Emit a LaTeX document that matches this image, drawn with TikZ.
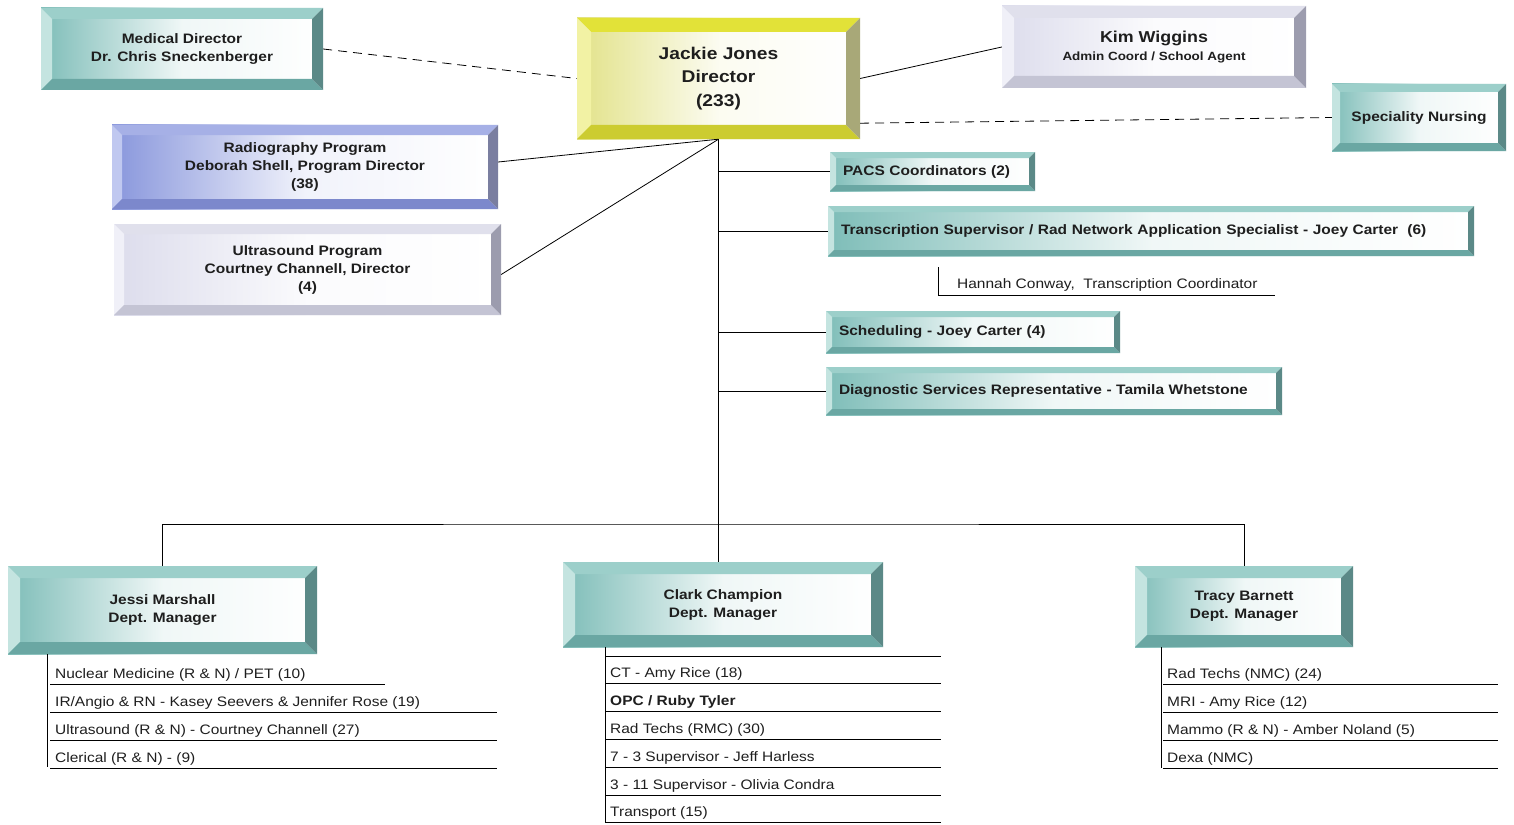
\documentclass[tikz,border=0pt]{standalone}
\usepackage{fontspec}
\setmainfont{Liberation Sans}[FakeStretch=1.13]
\usetikzlibrary{calc}

% bevel colours: T top, L left, B bottom, R right, I inner
\definecolor{tlT}{HTML}{9CCFCA}
\definecolor{tlL}{HTML}{C4E4E0}
\definecolor{tlB}{HTML}{6AA7A3}
\definecolor{tlR}{HTML}{5B8987}
\definecolor{tlI}{HTML}{7EBDB8}
\definecolor{ylT}{HTML}{E2E238}
\definecolor{ylL}{HTML}{F2F2A4}
\definecolor{ylB}{HTML}{CCCC30}
\definecolor{ylR}{HTML}{A8A878}
\definecolor{ylI}{HTML}{E2E288}
\definecolor{blT}{HTML}{A6B0E6}
\definecolor{blL}{HTML}{C0C8F0}
\definecolor{blB}{HTML}{7C88CC}
\definecolor{blR}{HTML}{7A7EA0}
\definecolor{blI}{HTML}{8896DC}
\definecolor{lvT}{HTML}{E0E0EC}
\definecolor{lvL}{HTML}{F0F0F8}
\definecolor{lvB}{HTML}{C4C4D4}
\definecolor{lvR}{HTML}{9C9CAE}
\definecolor{lvI}{HTML}{DCDCEC}
\definecolor{ink}{HTML}{1E1E1E}

\newcommand\bxfont{\fontsize{13.7}{18}\selectfont\bfseries}
\newcommand\rowfont{\fontsize{13.7}{16}\selectfont}

\tikzset{
  bevel/.style 2 args={
    left color=#2I, right color=white, middle color=white!88!#2I,
    path picture={
      \path (path picture bounding box.south west) coordinate (p1)
            (path picture bounding box.north east) coordinate (p3);
      \path (p1 -| p3) coordinate (p2) (p1 |- p3) coordinate (p4);
      \path ($(p1)+(#1pt,#1pt)$) coordinate (q1) ($(p2)+(-#1pt,#1pt)$) coordinate (q2)
            ($(p3)+(-#1pt,-#1pt)$) coordinate (q3) ($(p4)+(#1pt,-#1pt)$) coordinate (q4);
      \fill[#2T] (p4) -- (p3) -- (q3) -- (q4) -- cycle;
      \fill[#2L] (p1) -- (p4) -- (q4) -- (q1) -- cycle;
      \fill[#2B] (p1) -- (p2) -- (q2) -- (q1) -- cycle;
      \fill[#2R] (p2) -- (p3) -- (q3) -- (q2) -- cycle;
    }},
  box/.style={font=\bxfont, text=ink, align=center, inner sep=0pt},
  slim/.style={box, align=left, inner xsep=13pt, text width=#1},
  link/.style={line width=0.8pt, draw=black},
  dashlink/.style={link, dash pattern=on 9pt off 6pt},
  row/.style={anchor=base west, inner sep=0pt, font=\rowfont, text=ink},
  rule/.style={line width=0.8pt},
}

\begin{document}
\begin{tikzpicture}[x=1pt,y=-1pt]
    \useasboundingbox (0,0) rectangle (1514,824);

    % top level
    \node[box, bevel={14}{yl}, minimum width=283pt, minimum height=121pt,
          font=\fontsize{17}{23.5}\selectfont\bfseries] (dir) at (718.5,78.5) {Jackie Jones\\Director\\(233)};
    \node[box, bevel={11}{tl}, minimum width=282pt, minimum height=82pt] (med) at (182,49)
        {Medical Director\\Dr. Chris Sneckenberger};
    \node[box, bevel={12}{lv}, minimum width=304pt, minimum height=82pt] (kim) at (1154,47)
        {{\fontsize{15.8}{17}\selectfont Kim Wiggins}\\{\fontsize{11.9}{15}\selectfont Admin Coord / School Agent}};
    \node[box, bevel={8}{tl}, minimum width=174pt, minimum height=67pt] (nurse) at (1419,117.5)
        {Speciality Nursing};
    \node[box, bevel={10}{bl}, minimum width=386pt, minimum height=84pt] (radio) at (305,167)
        {Radiography Program\\Deborah Shell, Program Director\\(38)};
    \node[box, bevel={10}{lv}, minimum width=387pt, minimum height=91pt] (usprog) at (307.5,269.5)
        {Ultrasound Program\\Courtney Channell, Director\\(4)};

    % staff boxes off the trunk
    \node[slim=179pt, bevel={6}{tl}, minimum height=39pt] (pacs) at (932.5,171.5) {PACS Coordinators (2)};
    \node[slim=620pt, bevel={6}{tl}, minimum height=50pt] (trans) at (1151,231)
        {Transcription Supervisor / Rad Network Application Specialist - Joey Carter\ \ (6)};
    \node[slim=268pt, bevel={6}{tl}, minimum height=42pt] (sched) at (973,332) {Scheduling - Joey Carter (4)};
    \node[slim=430pt, bevel={6}{tl}, minimum height=48pt] (diag) at (1054,391)
        {Diagnostic Services Representative - Tamila Whetstone};
    \node[row] (hannah) at (957,288) {Hannah Conway,\ \ Transcription Coordinator};

    % managers
    \node[box, bevel={12}{tl}, minimum width=309pt, minimum height=88pt] (jessi) at (162.5,610) {Jessi Marshall\\Dept. Manager};
    \node[box, bevel={12}{tl}, minimum width=320pt, minimum height=85pt] (clark) at (723,604.5) {Clark Champion\\Dept. Manager};
    \node[box, bevel={12}{tl}, minimum width=218pt, minimum height=81pt] (tracy) at (1244,606.5) {Tracy Barnett\\Dept. Manager};

    % connectors
    \draw[dashlink] (med.east) -- (dir.west);
    \draw[link] (dir.east) -- (kim.west);
    \draw[dashlink] ([yshift=16pt]dir.south east) -- (nurse.west);
    \draw[link] ([yshift=5pt]radio.east) -- (dir.south);
    \draw[link] ([yshift=-5pt]usprog.east) -- (dir.south);
    \draw[link] (dir.south) -- (dir.south |- clark.north);
    \foreach \n in {pacs,trans,sched,diag}
        \draw[link] (dir.south |- \n.west) -- (\n.west);
    \draw[link] (938,267) |- (1275,295);
    \coordinate (bus) at (718.5,524);
    \draw[link] (jessi.north) |- (bus) -| (tracy.north);

    % lists
    \coordinate (jx) at (47,767);
    \coordinate (cx) at (605,822);
    \coordinate (tx) at (1161,768);
    \draw[rule] (jessi.south -| jx) -- (jx);
    \draw[rule] (clark.south -| cx) -- (cx);
    \draw[rule] (tracy.south -| tx) -- (tx);

    \foreach \t [count=\i] in {{Nuclear Medicine (R \& N) / PET (10)},
            {IR/Angio \& RN - Kasey Seevers \& Jennifer Rose (19)},
            {Ultrasound (R \& N) - Courtney Channell (27)},
            {Clerical (R \& N) - (9)}}
        \node[row] (j\i) at (55,650+28*\i) {\t};
    \draw[rule] (50,684) -- (385,684);
    \foreach \y in {712,740,768}
        \draw[rule] (50,\y) -- (497,\y);

    \foreach \t [count=\i] in {{CT - Amy Rice (18)}, {\bfseries OPC / Ruby Tyler}, {Rad Techs (RMC) (30)},
            {7 - 3 Supervisor - Jeff Harless}, {3 - 11 Supervisor - Olivia Condra}, {Transport (15)}}
        \node[row] (c\i) at (610,650+27.8*\i) {\t};
    \foreach \i in {0,...,6}
        \draw[rule] (605,656+27.8*\i) -- (941,656+27.8*\i);

    \foreach \t [count=\i] in {{Rad Techs (NMC) (24)}, {MRI - Amy Rice (12)},
            {Mammo (R \& N) - Amber Noland (5)}, {Dexa (NMC)}}
        \node[row] (t\i) at (1167,650+28*\i) {\t};
    \foreach \y in {684,712,740,768}
        \draw[rule] (1163,\y) -- (1498,\y);
\end{tikzpicture}
\end{document}
